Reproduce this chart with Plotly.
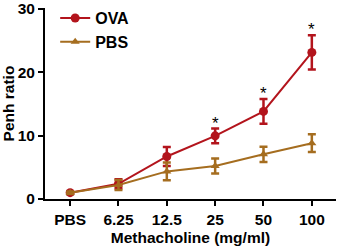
import plotly.graph_objects as go

categories = ["PBS", "6.25", "12.5", "25", "50", "100"]
ova_mean = [1.0, 2.4, 6.7, 9.95, 13.8, 23.1]
ova_err = [0.2, 0.7, 1.5, 1.15, 1.95, 2.7]
pbs_mean = [1.0, 2.2, 4.35, 5.2, 7.05, 8.8]
pbs_err = [0.2, 0.8, 1.4, 1.2, 1.2, 1.4]
sig_labels = ["", "", "", "*", "*", "*"]
y_ticks = [0, 10, 20, 30]

ova_color = "#B3141C"
pbs_color = "#A56D1F"
font_family = "Liberation Sans, Arial, sans-serif"

xs = list(range(len(categories)))
fig = go.Figure()
fig.add_trace(go.Scatter(
    x=xs, y=ova_mean, name="<b>OVA</b>",
    mode="lines+markers",
    line=dict(color=ova_color, width=2),
    marker=dict(symbol="circle", size=9, color=ova_color),
    error_y=dict(type="data", array=ova_err, color=ova_color, thickness=2.5, width=4),
))
fig.add_trace(go.Scatter(
    x=xs, y=pbs_mean, name="<b>PBS</b>",
    mode="lines+markers",
    line=dict(color=pbs_color, width=2),
    marker=dict(symbol="triangle-up", size=8, color=pbs_color),
    error_y=dict(type="data", array=pbs_err, color=pbs_color, thickness=2.5, width=4),
))

for i, lab in enumerate(sig_labels):
    if lab:
        fig.add_annotation(x=i, y=ova_mean[i] + ova_err[i], text=lab, showarrow=False,
                           yanchor="bottom", yshift=-6,
                           font=dict(family=font_family, size=17, color="black"))

fig.update_layout(
    width=337, height=247,
    margin=dict(l=45, r=1, t=8, b=48),
    paper_bgcolor="white", plot_bgcolor="white",
    font=dict(family=font_family, size=15, color="black"),
    showlegend=True,
    legend=dict(x=0.035, y=1.036, xanchor="left", yanchor="top",
                bgcolor="rgba(0,0,0,0)", font=dict(size=16, family=font_family, color="black"),
                tracegroupgap=0, itemwidth=30),
    xaxis=dict(
        tickmode="array", tickvals=xs, ticktext=["<b>%s</b>" % c for c in categories],
        range=[-0.52, 5.5], showline=True, linecolor="black", linewidth=2,
        ticks="outside", ticklen=5, tickwidth=1.5, tickcolor="black",
        showgrid=False, zeroline=False, automargin=False,
        tickfont=dict(size=15.5, family=font_family, color="black"),
        title=dict(text="<b>Methacholine (mg/ml)</b>", font=dict(size=15.5, family=font_family, color="black"), standoff=6),
    ),
    yaxis=dict(
        range=[0, 30.1], tickmode="array", tickvals=y_ticks,
        ticktext=["<b>%d</b>" % v for v in y_ticks],
        showline=True, linecolor="black", linewidth=2,
        ticks="outside", ticklen=5, tickwidth=1.5, tickcolor="black",
        showgrid=False, zeroline=False, automargin=False,
        ticklabeloverflow="allow",
        tickfont=dict(size=15.5, family=font_family, color="black"),
        title=dict(text="<b>Penh ratio</b>", font=dict(size=15.5, family=font_family, color="black"), standoff=4),
    ),
)

fig.write_html("out.html", config={"displayModeBar": False},
               post_script="document.body.style.margin='0';document.body.style.overflow='hidden';")
